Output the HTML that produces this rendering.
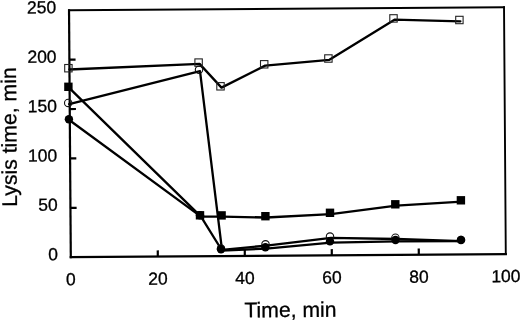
<!DOCTYPE html>
<html><head><meta charset="utf-8"><style>
html,body{margin:0;padding:0;background:#fff;overflow:hidden;width:520px;height:321px;}
svg{display:block;filter:grayscale(1);}
text{font-family:"Liberation Sans", sans-serif;fill:#000;stroke:#000;stroke-width:0.3px;}
</style></head><body>
<svg width="520" height="321" viewBox="0 0 520 321">
<rect width="520" height="321" fill="#fff"/>
<line x1="69.03" y1="10.31" x2="504.02" y2="7.19" stroke="#000" stroke-width="1.9" stroke-linecap="square"/>
<line x1="504.02" y1="7.19" x2="505.79" y2="254.09" stroke="#000" stroke-width="1.9" stroke-linecap="square"/>
<line x1="505.79" y1="254.09" x2="70.80" y2="257.20" stroke="#000" stroke-width="2.2" stroke-linecap="square"/>
<line x1="70.80" y1="257.20" x2="69.03" y2="10.31" stroke="#000" stroke-width="2.2" stroke-linecap="square"/>
<line x1="157.80" y1="256.58" x2="157.75" y2="250.38" stroke="#000" stroke-width="2.2"/>
<line x1="244.80" y1="255.95" x2="244.75" y2="249.76" stroke="#000" stroke-width="2.2"/>
<line x1="331.79" y1="255.33" x2="331.75" y2="249.13" stroke="#000" stroke-width="2.2"/>
<line x1="418.79" y1="254.71" x2="418.75" y2="248.51" stroke="#000" stroke-width="2.2"/>
<line x1="70.45" y1="207.82" x2="76.65" y2="207.78" stroke="#000" stroke-width="2.2"/>
<line x1="70.09" y1="158.44" x2="76.29" y2="158.40" stroke="#000" stroke-width="2.2"/>
<line x1="69.74" y1="109.06" x2="75.94" y2="109.02" stroke="#000" stroke-width="2.2"/>
<line x1="69.39" y1="59.69" x2="75.59" y2="59.64" stroke="#000" stroke-width="2.2"/>
<polyline points="69.40,69.50 199.60,63.90 221.50,87.60 265.20,65.60 329.40,59.80 394.50,19.70 460.40,21.30" fill="none" stroke="#000" stroke-width="2.3" stroke-linejoin="round" stroke-linecap="round"/>
<polyline points="69.20,104.20 200.00,71.10 222.00,249.80 266.50,245.60 331.00,237.90 396.40,239.00 462.00,241.20" fill="none" stroke="#000" stroke-width="2.3" stroke-linejoin="round" stroke-linecap="round"/>
<polyline points="69.40,88.10 201.00,216.60 222.60,216.70 266.40,217.50 331.00,214.10 396.30,205.60 461.90,201.60" fill="none" stroke="#000" stroke-width="2.3" stroke-linejoin="round" stroke-linecap="round"/>
<polyline points="69.90,120.50 201.00,216.60 222.00,250.50 266.40,248.60 331.00,242.70 396.50,241.30 462.00,241.20" fill="none" stroke="#000" stroke-width="2.3" stroke-linejoin="round" stroke-linecap="round"/>
<rect x="64.70" y="64.50" width="7.40" height="7.40" fill="none" stroke="#222" stroke-width="1.1"/>
<rect x="194.90" y="58.90" width="7.40" height="7.40" fill="none" stroke="#222" stroke-width="1.1"/>
<rect x="216.80" y="82.60" width="7.40" height="7.40" fill="none" stroke="#222" stroke-width="1.1"/>
<rect x="260.50" y="60.60" width="7.40" height="7.40" fill="none" stroke="#222" stroke-width="1.1"/>
<rect x="324.70" y="54.80" width="7.40" height="7.40" fill="none" stroke="#222" stroke-width="1.1"/>
<rect x="389.80" y="14.70" width="7.40" height="7.40" fill="none" stroke="#222" stroke-width="1.1"/>
<rect x="455.70" y="16.30" width="7.40" height="7.40" fill="none" stroke="#222" stroke-width="1.1"/>
<circle cx="68.20" cy="102.90" r="3.70" fill="none" stroke="#111" stroke-width="1.1"/>
<circle cx="199.00" cy="69.80" r="3.70" fill="none" stroke="#111" stroke-width="1.1"/>
<circle cx="221.00" cy="248.50" r="3.70" fill="none" stroke="#111" stroke-width="1.1"/>
<circle cx="265.50" cy="244.30" r="3.70" fill="none" stroke="#111" stroke-width="1.1"/>
<circle cx="330.00" cy="236.60" r="3.70" fill="none" stroke="#111" stroke-width="1.1"/>
<circle cx="395.40" cy="237.70" r="3.70" fill="none" stroke="#111" stroke-width="1.1"/>
<circle cx="461.00" cy="239.90" r="3.70" fill="none" stroke="#111" stroke-width="1.1"/>
<rect x="64.20" y="82.60" width="8.40" height="8.40" fill="#000"/>
<rect x="195.80" y="211.10" width="8.40" height="8.40" fill="#000"/>
<rect x="217.40" y="211.20" width="8.40" height="8.40" fill="#000"/>
<rect x="261.20" y="212.00" width="8.40" height="8.40" fill="#000"/>
<rect x="325.80" y="208.60" width="8.40" height="8.40" fill="#000"/>
<rect x="391.10" y="200.10" width="8.40" height="8.40" fill="#000"/>
<rect x="456.70" y="196.10" width="8.40" height="8.40" fill="#000"/>
<circle cx="68.90" cy="119.20" r="4.20" fill="#000"/>
<circle cx="200.00" cy="215.30" r="4.20" fill="#000"/>
<circle cx="221.00" cy="249.20" r="4.20" fill="#000"/>
<circle cx="265.40" cy="247.30" r="4.20" fill="#000"/>
<circle cx="330.00" cy="241.40" r="4.20" fill="#000"/>
<circle cx="395.50" cy="240.00" r="4.20" fill="#000"/>
<circle cx="461.00" cy="239.90" r="4.20" fill="#000"/>
<g font-size="17.5">
<text x="58.00" y="260.09" text-anchor="end" transform="rotate(-0.41 58.00 257.29)">0</text>
<text x="57.65" y="210.71" text-anchor="end" transform="rotate(-0.41 57.65 207.91)">50</text>
<text x="57.29" y="161.33" text-anchor="end" transform="rotate(-0.41 57.29 158.53)">100</text>
<text x="56.94" y="111.96" text-anchor="end" transform="rotate(-0.41 56.94 109.16)">150</text>
<text x="56.59" y="62.58" text-anchor="end" transform="rotate(-0.41 56.59 59.78)">200</text>
<text x="56.23" y="13.20" text-anchor="end" transform="rotate(-0.41 56.23 10.40)">250</text>
<text x="70.80" y="285.20" text-anchor="middle" transform="rotate(-0.41 70.80 257.20)">0</text>
<text x="157.80" y="284.58" text-anchor="middle" transform="rotate(-0.41 157.80 256.58)">20</text>
<text x="244.80" y="283.95" text-anchor="middle" transform="rotate(-0.41 244.80 255.95)">40</text>
<text x="331.79" y="283.33" text-anchor="middle" transform="rotate(-0.41 331.79 255.33)">60</text>
<text x="418.79" y="282.71" text-anchor="middle" transform="rotate(-0.41 418.79 254.71)">80</text>
<text x="505.79" y="282.09" text-anchor="middle" transform="rotate(-0.41 505.79 254.09)">100</text>
</g>
<text x="290.5" y="317.0" text-anchor="middle" font-size="21.2" transform="rotate(-0.41 290.5 317.0)">Time, min</text>
<text x="16.4" y="137" text-anchor="middle" font-size="21.2" transform="rotate(-90.41 16.4 137)">Lysis time, min</text>
</svg>
</body></html>
